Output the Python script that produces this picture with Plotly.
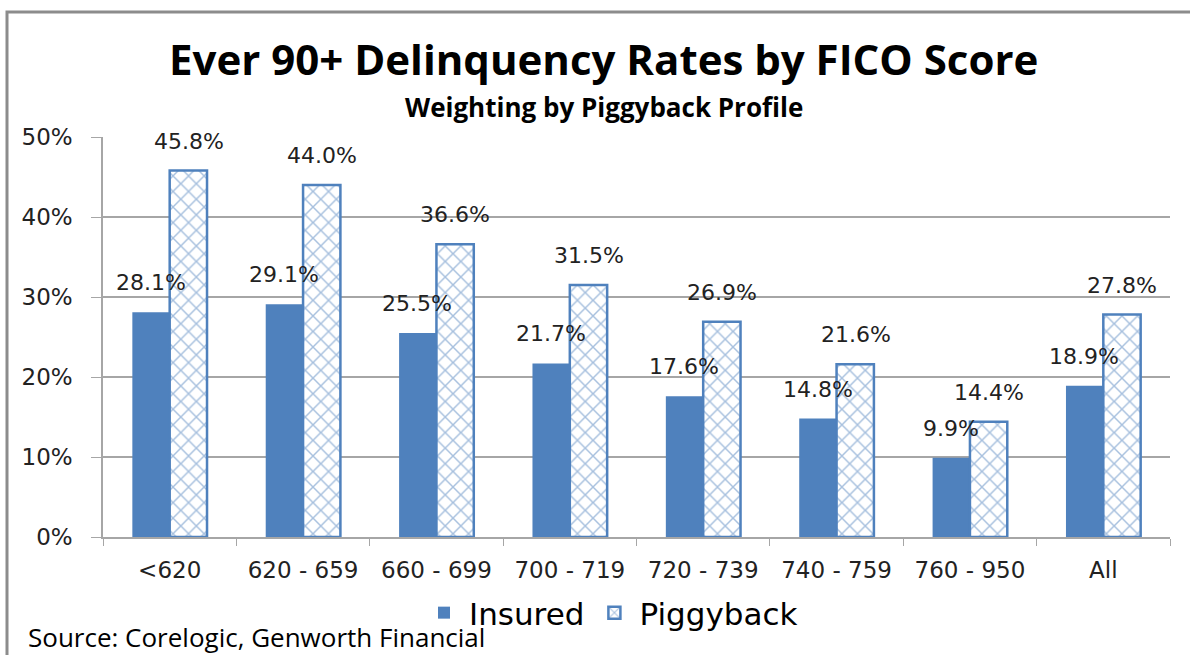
import plotly.graph_objects as go

categories = ["<620", "620 - 659", "660 - 699", "700 - 719", "720 - 739", "740 - 759", "760 - 950", "All"]
insured = [28.1, 29.1, 25.5, 21.7, 17.6, 14.8, 9.9, 18.9]
piggyback = [45.8, 44.0, 36.6, 31.5, 26.9, 21.6, 14.4, 27.8]
y_ticks = [0, 10, 20, 30, 40, 50]
y_tick_labels = ["0%", "10%", "20%", "30%", "40%", "50%"]

BLUE = "#4F81BD"
LABEL_FONT = dict(family="DejaVu Sans", size=22, color="#222222")

fig = go.Figure()
fig.add_trace(go.Bar(
    name="Insured", x=categories, y=insured,
    marker=dict(color=BLUE, line=dict(width=0)),
))
fig.add_trace(go.Bar(
    name="Piggyback", x=categories, y=piggyback,
    marker=dict(color="white", line=dict(color=BLUE, width=2.5),
                pattern=dict(shape="x", fgcolor=BLUE, bgcolor="white", size=11, solidity=0.25)),
))

annotations = []
for c, v in zip(categories, insured):
    annotations.append(dict(x=c, y=v, xref="x", yref="y", text=f"{v:.1f}%", showarrow=False,
                            xshift=-19, yshift=15, yanchor="bottom", font=LABEL_FONT))
for c, v in zip(categories, piggyback):
    annotations.append(dict(x=c, y=v, xref="x", yref="y", text=f"{v:.1f}%", showarrow=False,
                            xshift=19, yshift=15, yanchor="bottom", font=LABEL_FONT))

annotations += [
    dict(text="<b>Ever 90+ Delinquency Rates by FICO Score</b>", xref="paper", yref="paper",
         x=(603 - 103) / 1067, y=(537 - 59) / 400, xanchor="center", yanchor="middle", showarrow=False,
         font=dict(family="Open Sans", size=42, color="black")),
    dict(text="<b>Weighting by Piggyback Profile</b>", xref="paper", yref="paper",
         x=(604 - 103) / 1067, y=(537 - 107) / 400, xanchor="center", yanchor="middle", showarrow=False,
         font=dict(family="Open Sans", size=26, color="black")),
    dict(text="<b>Exhibit 7</b>", xref="paper", yref="paper",
         x=(590 - 103) / 1067, y=(537 + 6) / 400, xanchor="center", yanchor="bottom", showarrow=False,
         font=dict(family="Open Sans", size=18, color="black")),
    dict(text="Source: Corelogic, Genworth Financial", xref="paper", yref="paper",
         x=(26 - 103) / 1067, y=(537 - 637) / 400, xanchor="left", yanchor="middle", showarrow=False,
         font=dict(family="Open Sans", size=26, color="black")),
]

fig.update_layout(
    width=1190, height=655,
    margin=dict(l=103, r=20, t=137, b=118),
    paper_bgcolor="white", plot_bgcolor="white",
    barmode="group", bargap=0.44, bargroupgap=0,
    showlegend=True,
    legend=dict(orientation="h", x=(611 - 103) / 1067, y=(537 - 613) / 400, xanchor="center", yanchor="middle",
                font=dict(family="DejaVu Sans", size=31, color="black"),
                itemwidth=40, tracegroupgap=0),
    annotations=annotations,
    shapes=[dict(type="rect", xref="paper", yref="paper",
                 x0=(7 - 103) / 1067, x1=(1200 - 103) / 1067,
                 y0=(537 - 670) / 400, y1=(537 - 12) / 400,
                 line=dict(color="#8c8c8c", width=3), fillcolor="rgba(0,0,0,0)", layer="below")],
    xaxis=dict(showline=True, linecolor="#A6A6A6", linewidth=1.5, ticks="outside",
               tickson="boundaries", ticklen=7, tickcolor="#A6A6A6", ticklabelstandoff=12,
               tickfont=dict(family="DejaVu Sans", size=23, color="#222222"), showgrid=False),
    yaxis=dict(range=[0, 50], tickvals=y_ticks, ticktext=y_tick_labels,
               showline=True, linecolor="#A6A6A6", linewidth=1.5,
               ticks="outside", ticklen=10, tickcolor="#A6A6A6", ticklabelstandoff=14,
               showgrid=True, gridcolor="#A6A6A6", gridwidth=1.5,
               tickfont=dict(family="DejaVu Sans", size=23, color="#222222"), zeroline=False),
)

fig.write_html("out.html", config={"displayModeBar": False},
               post_script="document.body.style.margin='0';document.body.style.padding='0';"
                           "document.body.style.overflow='hidden';")
